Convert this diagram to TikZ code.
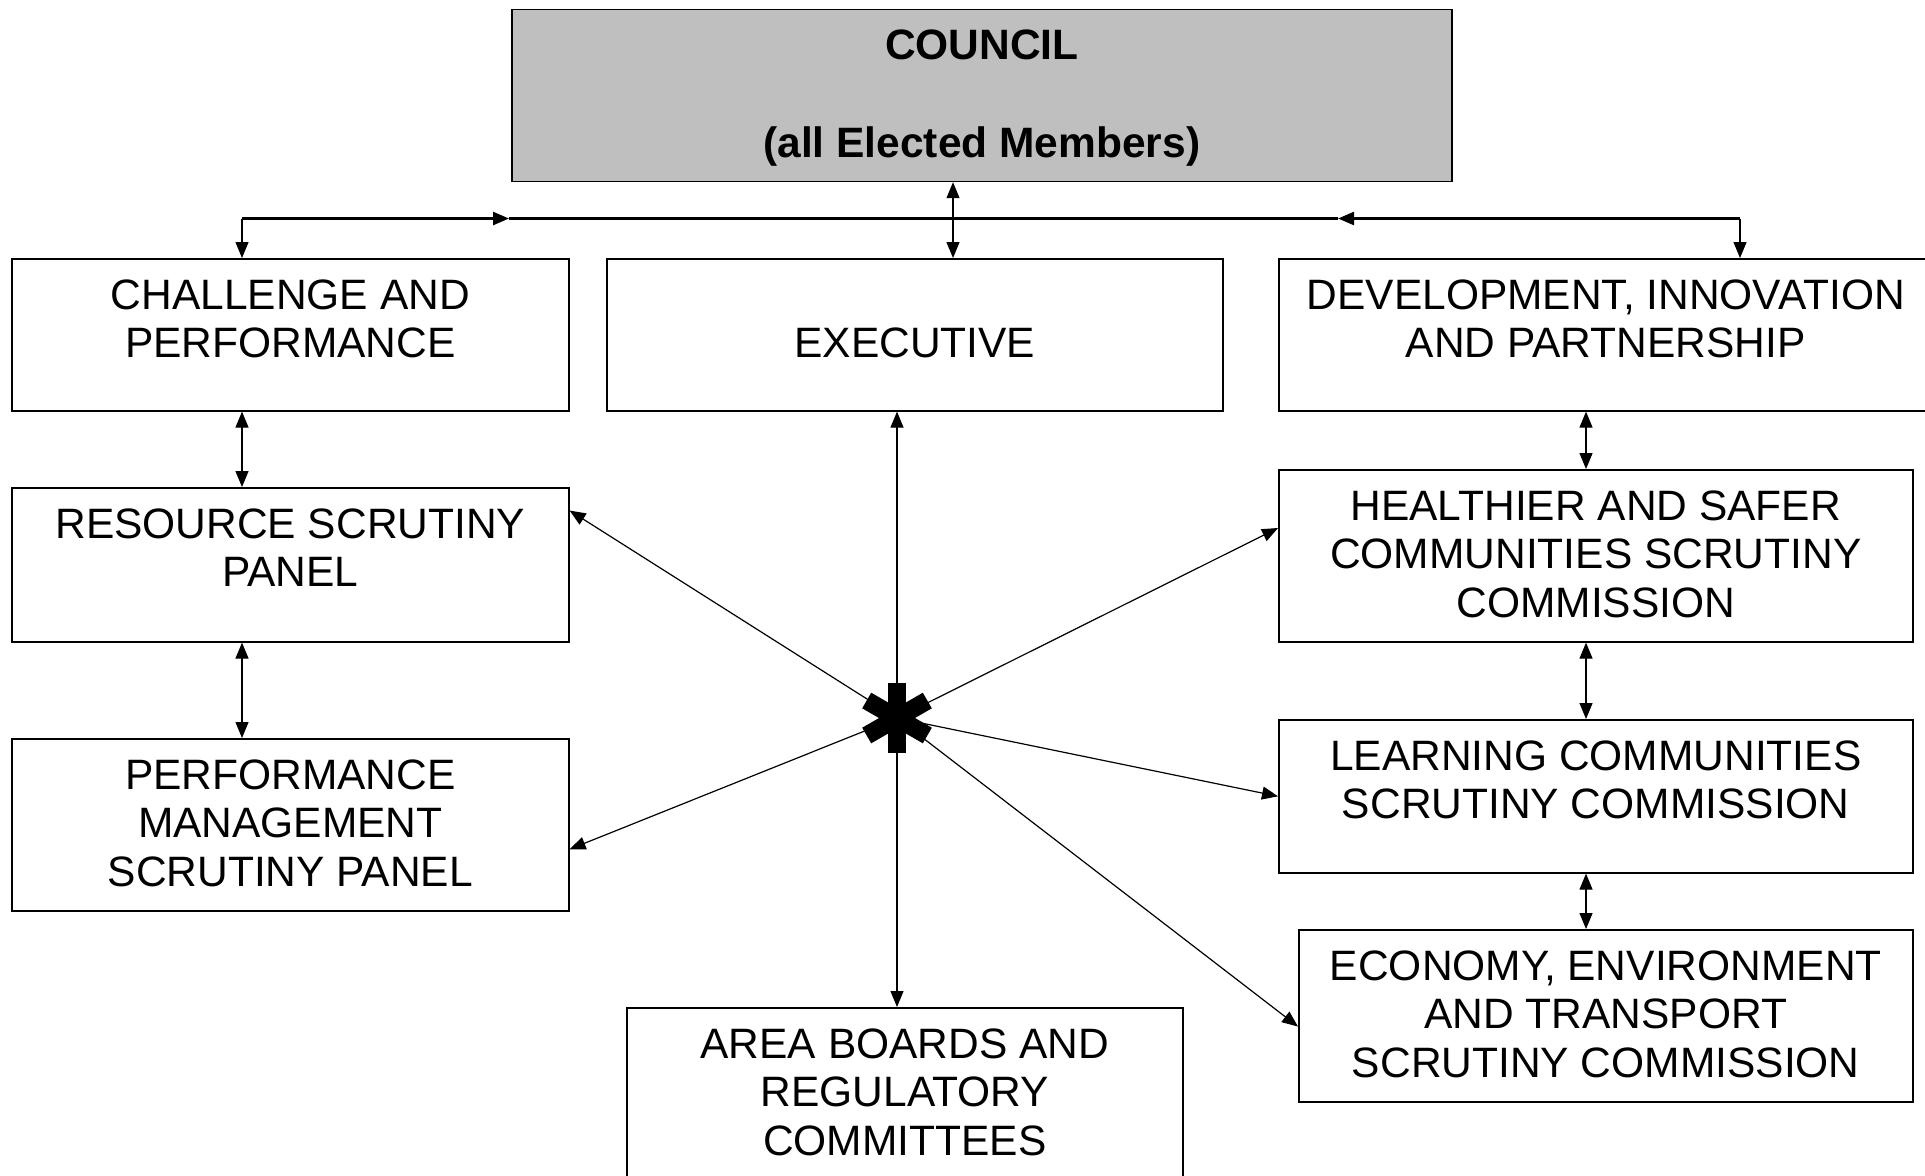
\documentclass[tikz,border=0pt]{standalone}
\usepackage{fontspec}
\setmainfont{Liberation Sans}
\usetikzlibrary{arrows.meta}

\begin{document}
\begin{tikzpicture}[x=0.5pt, y=-0.5pt,
  >={Triangle[length=8pt,width=6.5pt]},
  every node/.style={font=\fontsize{21.25}{24.4}\selectfont},
  panel/.style={draw, line width=0.8pt, align=center, anchor=north west, inner sep=0pt},
  twoline/.style={panel, text height=49.5pt},
  threeline/.style={panel, text height=73.9pt, text depth=12.1pt},
  link/.style={line width=0.6pt},
  bar/.style={line width=1.2pt}]

\clip (0,0) rectangle (1925,1175);

% Council
\node[threeline, fill=black!25, minimum width=470pt, font=\fontsize{21.25}{24.4}\selectfont\bfseries] (council) at (511,8.6) {COUNCIL\\[24.4pt](all Elected Members)};

% Top row
\node[twoline, minimum width=278.5pt, text depth=26.5pt] (challenge) at (11,258) {CHALLENGE AND\\PERFORMANCE};
\node[twoline, minimum width=308pt, text depth=26.5pt] (executive) at (606,258) {EXECUTIVE};
\node[twoline, minimum width=327pt, text depth=26.5pt] (development) at (1278,258) {DEVELOPMENT, INNOVATION\\AND PARTNERSHIP};

% Left panels
\node[twoline, minimum width=278.5pt, text depth=27.5pt] (resource) at (11,487) {RESOURCE SCRUTINY\\PANEL};
\node[threeline, minimum width=278.5pt] (performance) at (11,738) {PERFORMANCE\\MANAGEMENT\\SCRUTINY PANEL};

% Right commissions
\node[threeline, minimum width=317pt] (healthier) at (1278,469) {HEALTHIER AND SAFER\\COMMUNITIES SCRUTINY\\COMMISSION};
\node[twoline, minimum width=317pt, text depth=27pt] (learning) at (1278,719) {LEARNING COMMUNITIES\\SCRUTINY COMMISSION};
\node[threeline, minimum width=307pt] (economy) at (1298,929) {ECONOMY, ENVIRONMENT\\AND TRANSPORT\\SCRUTINY COMMISSION};

% Bottom
\node[threeline, minimum width=278pt] (area) at (626,1007) {AREA BOARDS AND\\REGULATORY\\COMMITTEES};

% Bar below council
\coordinate (split) at (953,218.5);
\coordinate (lbend) at (242,218.5);
\coordinate (rbend) at (1740,218.5);
\coordinate (lmark) at (509,218.5);
\coordinate (rmark) at (1338,218.5);
\coordinate (rcol) at (1586,0);

\draw[bar, ->] (lbend) -- (lmark);
\draw[bar] (lmark) -- (rmark);
\draw[bar, ->] (rbend) -- (rmark);
\draw[link, ->] (lbend) -- (lbend |- challenge.north);
\draw[link, ->] (rbend) -- (rbend |- development.north);
\draw[link, <->] (split |- council.south) -- (split |- executive.north);

% Columns
\draw[link, <->] (lbend |- challenge.south) -- (lbend |- resource.north);
\draw[link, <->] (lbend |- resource.south) -- (lbend |- performance.north);
\draw[link, <->] (rcol |- development.south) -- (rcol |- healthier.north);
\draw[link, <->] (rcol |- healthier.south) -- (rcol |- learning.north);
\draw[link, <->] (rcol |- learning.south) -- (rcol |- economy.north);

% Hub
\coordinate (hub) at (897,718);
\draw[link, ->] (hub) -- (hub |- executive.south);
\draw[link, ->] (hub) -- (hub |- area.north);
\draw[link, ->] (hub) -- (resource.11);
\draw[link, ->] (hub) -- (performance.-5);
\draw[link, ->] (hub) -- (healthier.175);
\draw[link, ->] (hub) -- (learning.west);
\draw[link, ->] (hub) -- (economy.182);

\foreach \a in {90,30,150}
  \draw[line width=9pt] ([shift={(\a:35)}]hub) -- ([shift={(\a+180:35)}]hub);

\end{tikzpicture}
\end{document}
